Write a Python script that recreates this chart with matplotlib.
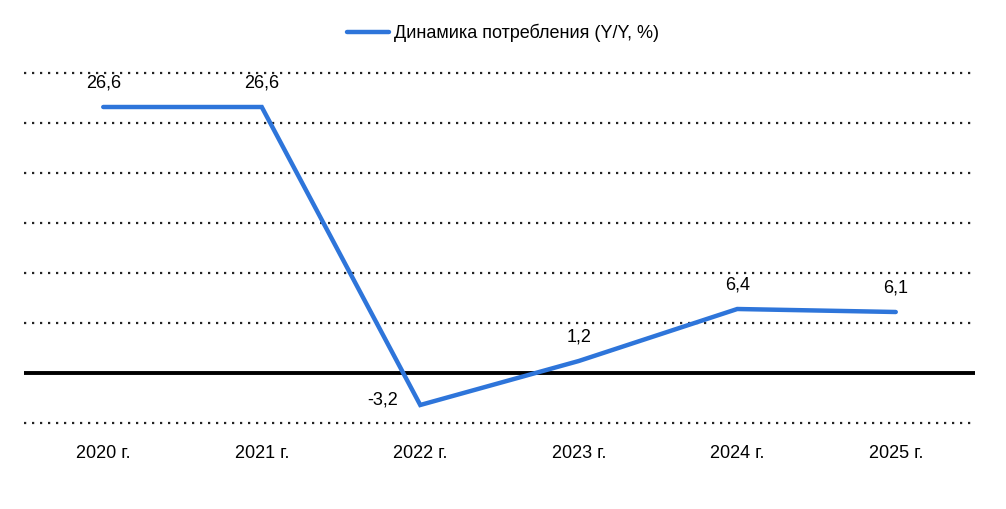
import matplotlib
matplotlib.use("Agg")
import matplotlib.pyplot as plt
from matplotlib.lines import Line2D

categories = ["2020 г.", "2021 г.", "2022 г.", "2023 г.", "2024 г.", "2025 г."]
values = [26.6, 26.6, -3.2, 1.2, 6.4, 6.1]
value_labels = ["26,6", "26,6", "-3,2", "1,2", "6,4", "6,1"]
series_name = "Динамика потребления (Y/Y, %)"

plt.rcParams['font.family'] = ['Liberation Sans', 'DejaVu Sans']
line_color = "#2E75DA"
fs = 13

fig = plt.figure(figsize=(10.06, 5.09), dpi=100)
ax = fig.add_axes([24/1006, 86/509, (975-24)/1006, (423-73)/509])

x = list(range(len(categories)))
ax.set_xlim(-0.5, len(categories) - 0.5)
ax.set_ylim(-5, 30)

for g in [-5, 5, 10, 15, 20, 25, 30]:
    ax.axhline(g, color="#222222", lw=1.6, linestyle=(0, (1, 2.6)), zorder=1, clip_on=False)
ax.axhline(0, color="black", lw=2.8, zorder=2)

ax.plot(x, values, color=line_color, lw=3.2, solid_capstyle="round", solid_joinstyle="miter", zorder=3)

for i, (v, lab) in enumerate(zip(values, value_labels)):
    if v < 0:
        ax.annotate(lab, (i, v), xytext=(-38, 5), textcoords="offset pixels",
                    ha="center", va="center", fontsize=fs, color="black")
    else:
        ax.annotate(lab, (i, v), xytext=(0, 24), textcoords="offset pixels",
                    ha="center", va="center", fontsize=fs, color="black")

ax.set_xticks(x)
ax.set_xticklabels(categories, fontsize=fs)
ax.tick_params(axis="x", length=0, pad=16)
ax.set_yticks([])
for s in ax.spines.values():
    s.set_visible(False)

handle = Line2D([0], [0], color=line_color, lw=3.2, solid_capstyle="round")
fig.legend([handle], [series_name], loc="center", bbox_to_anchor=(503/1006, 1 - 33/509),
           frameon=False, fontsize=fs, handlelength=2.3, handletextpad=0.3)

fig.savefig("out.png", dpi=100)
